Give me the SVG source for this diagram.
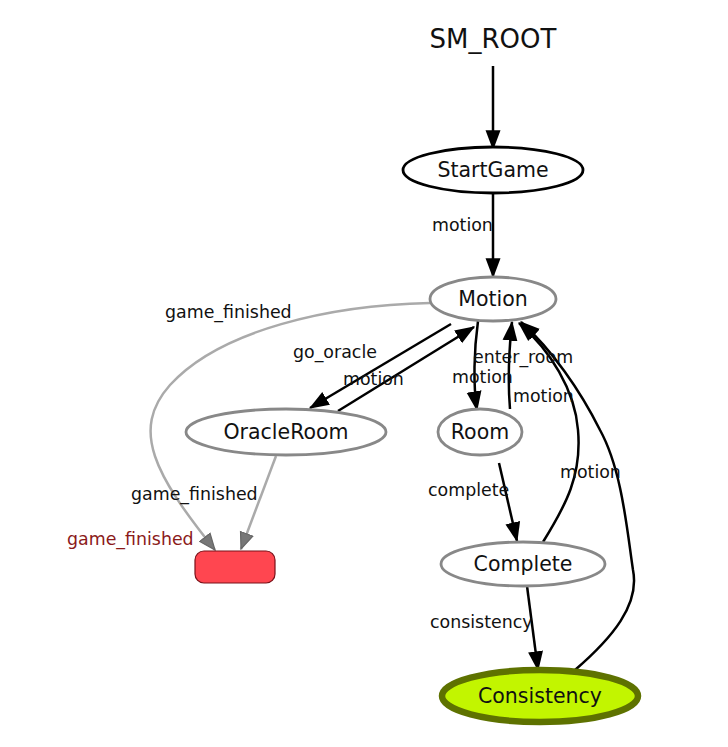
<svg xmlns="http://www.w3.org/2000/svg" width="728" height="747" viewBox="0 0 728 747">
<defs>
<marker id="ab" markerUnits="userSpaceOnUse" markerWidth="20" markerHeight="20" viewBox="0 0 16 12" refX="15" refY="6" orient="auto">
<path d="M0,0 L16,6 L0,12 Z" fill="#000"/>
</marker>
<marker id="ag" markerUnits="userSpaceOnUse" markerWidth="18" markerHeight="18" viewBox="0 0 15 12" refX="14" refY="6" orient="auto">
<path d="M0.5,0.5 L14,6 L0.5,11.5 Z" fill="#777" stroke="#666" stroke-width="1"/>
</marker>
<style>
text{font-family:"DejaVu Sans","Liberation Sans",sans-serif;fill:#111}
.n{font-size:20.5px;text-anchor:middle}
.l{font-size:17.4px}
.e{fill:none;stroke:#000;stroke-width:2.5}
.g{fill:none;stroke:#aaa;stroke-width:2.5}
.ge{fill:#fff;stroke:#888;stroke-width:2.8}
</style>
</defs>
<rect width="728" height="747" fill="#fff"/>
<g id="edges">
<path class="e" d="M493,66 L493,149" marker-end="url(#ab)"/>
<path class="e" d="M493,193 L493,277" marker-end="url(#ab)"/>
<path class="g" d="M430,303 C330,305 220,330 170,385 C130,430 155,475 215,550" marker-end="url(#ag)"/>
<path class="g" d="M276,456 L241,549" marker-end="url(#ag)"/>
<path class="e" d="M451,324 L310,408" marker-end="url(#ab)"/>
<path class="e" d="M338,411 L474,327" marker-end="url(#ab)"/>
<path class="e" d="M478,321 C474,350 473,385 477,410" marker-end="url(#ab)"/>
<path class="e" d="M510,409 C508,385 509,350 512,322" marker-end="url(#ab)"/>
<path class="e" d="M499,463 L517,541" marker-end="url(#ab)"/>
<path class="e" d="M543,542 C566,505 582,475 578,430 C575,390 550,350 519,323" marker-end="url(#ab)"/>
<path class="e" d="M575,670 C612,638 640,605 633,570 C627,530 622,470 600,430 C580,390 552,350 521,322" marker-end="url(#ab)"/>
<path class="e" d="M527,586 L538,670" marker-end="url(#ab)"/>
</g>
<g id="labels">
<text class="l" x="432" y="231">motion</text>
<text class="l" x="165" y="318">game_finished</text>
<text class="l" x="293" y="358">go_oracle</text>
<text class="l" x="343" y="385">motion</text>
<text class="l" x="473" y="363">enter_room</text>
<text class="l" x="452" y="383">motion</text>
<text class="l" x="513" y="402">motion</text>
<text class="l" x="560" y="478">motion</text>
<text class="l" x="428" y="496">complete</text>
<text class="l" x="131" y="500">game_finished</text>
<text class="l" x="67" y="545" style="fill:#8b1a1a">game_finished</text>
<text class="l" x="430" y="628">consistency</text>
</g>
<g id="SM_ROOT"><text x="493" y="48" style="font-size:26px;text-anchor:middle">SM_ROOT</text></g>
<g id="StartGame"><ellipse cx="493" cy="170" rx="90" ry="23" fill="#fff" stroke="#000" stroke-width="2.8"/><text class="n" x="493" y="177">StartGame</text></g>
<g id="Motion"><ellipse class="ge" cx="493" cy="299" rx="63" ry="22"/><text class="n" x="493" y="306">Motion</text></g>
<g id="OracleRoom"><ellipse class="ge" cx="286" cy="432" rx="100" ry="23"/><text class="n" x="286" y="439">OracleRoom</text></g>
<g id="Room"><ellipse class="ge" cx="480" cy="432" rx="42" ry="23"/><text class="n" x="480" y="439">Room</text></g>
<g id="Complete"><ellipse class="ge" cx="523" cy="564" rx="82" ry="22"/><text class="n" x="523" y="571">Complete</text></g>
<g id="Consistency"><ellipse cx="540" cy="696" rx="98" ry="26" fill="#c2f500" stroke="#5e7200" stroke-width="6.5"/><text class="n" x="540" y="703">Consistency</text></g>
<g id="game_finished_box"><rect x="195" y="551" width="80" height="32" rx="9" fill="#ff4650" stroke="#7a1018" stroke-width="1.2"/></g>
</svg>
